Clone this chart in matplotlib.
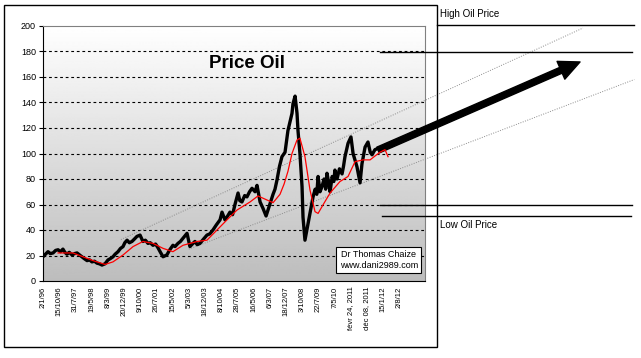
import numpy as np
import matplotlib
matplotlib.use("Agg")
import matplotlib.pyplot as plt
from matplotlib.patches import Rectangle

plt.rcParams['font.family'] = ['Liberation Sans', 'DejaVu Sans']

# category-axis labels, one every ~200 rows of the sheet
DATES = ["2/1/96", "15/10/96", "31/7/97", "19/5/98", "8/3/99", "20/12/99", "9/10/00",
         "26/7/01", "15/5/02", "5/3/03", "18/12/03", "8/10/04", "28/7/05", "16/5/06",
         "6/3/07", "18/12/07", "3/10/08", "22/7/09", "7/5/10", "févr 24, 2011",
         "déc 08, 2011", "15/1/12", "2/8/12"]

# oil price (x in label steps, y in $)
PRICE_T = [0.00, 0.15, 0.31, 0.45, 0.62, 0.78, 0.93, 1.08, 1.23, 1.35, 1.48, 1.62, 1.79, 1.95,
           2.10, 2.25, 2.41, 2.55, 2.72, 2.88, 3.02, 3.18, 3.33, 3.48, 3.64, 3.83,
           4.01, 4.15, 4.32, 4.45, 4.63, 4.78, 4.94, 5.05, 5.19, 5.33, 5.49, 5.65, 5.80, 5.99,
           6.17, 6.32, 6.48, 6.62, 6.79, 6.95, 7.10, 7.25, 7.41, 7.65,
           7.80, 8.02, 8.15, 8.33, 8.48, 8.64, 8.89, 9.07, 9.22, 9.38, 9.52, 9.69, 9.85, 10.12,
           10.30, 10.49, 10.70, 10.93, 11.05, 11.23, 11.40, 11.54, 11.70,
           11.85, 12.04, 12.15, 12.28, 12.45, 12.59, 12.75, 12.90, 13.09, 13.21, 13.40, 13.58,
           13.77, 13.95, 14.20, 14.32,
           14.44, 14.60, 14.75, 14.94, 15.12, 15.37, 15.43, 15.56, 15.68, 15.74, 15.86, 15.99,
           16.05, 16.17, 16.36, 16.48, 16.67, 16.80, 16.90, 16.98, 17.10, 17.22, 17.35, 17.45,
           17.53, 17.62, 17.72, 17.85, 17.95, 18.02, 18.15, 18.30, 18.46, 18.55, 18.64, 18.83,
           19.01, 19.14, 19.38, 19.57, 19.69, 19.88, 20.06, 20.20, 20.31, 20.49, 20.68]
PRICE = [19, 21, 23, 21.5, 22, 24, 24.5, 23, 25, 22.5, 21, 22.5, 20.5, 21.5,
         22, 20.5, 19, 17.5, 16, 16.5, 15, 15.5, 14, 13.5, 12.5, 13.5,
         16.5, 17.5, 19, 21, 23, 25.5, 27, 30, 32, 30, 31, 33, 35, 36,
         31, 32, 29.5, 30, 28, 29, 26, 22.5, 19, 20.5,
         24, 28, 27, 29.5, 31, 33.5, 37.4, 27, 29, 31, 28.5, 29.5, 32, 36,
         37, 40, 44, 48, 54, 48, 51, 54, 52,
         60, 69, 63, 62, 67, 66, 70, 72.7, 70, 75, 62, 57,
         51, 58, 68, 72,
         79, 90, 97.5, 101, 118, 131.5, 139, 145, 131.5, 118, 100, 74,
         50, 32, 45, 53, 66, 72, 68, 82, 70, 74, 80, 72,
         84.5, 78, 70, 82, 78, 87, 80, 88, 84, 90, 97.5, 108,
         113, 100, 89.6, 77, 92, 105, 109, 101, 99, 103, 104]

# red moving average
MA_T = [0.93, 1.85, 2.47, 3.09, 3.83, 4.32, 4.94, 5.56, 6.17, 6.79, 7.41, 8.02, 8.64, 9.51,
        10.12, 10.74, 11.36, 11.98, 12.78, 13.27, 13.83, 14.20, 14.63, 14.88, 15.12, 15.37,
        15.68, 15.86, 16.17, 16.48, 16.79, 16.98, 17.28, 17.72, 18.33, 18.83, 19.26, 19.75,
        20.19, 20.49, 20.80, 21.11, 21.30]
MA = [22, 22, 19, 16, 13, 15, 20.4, 27, 31, 29.5, 25.6, 23, 28, 31,
      32, 40, 48, 55.7, 62, 66.7, 63.5, 61.4, 68, 76, 86, 100,
      110.6, 112, 97.5, 71.4, 54.4, 53, 59.6, 69, 78, 82, 93.6, 95,
      95, 98, 101, 103, 97.5]

# hand-drawn channel, arrow and price bands
UPPER_T, UPPER_V = [4.81, 33.33], [32.5, 198.4]
LOWER_T, LOWER_V = [9.0, 36.5], [25.0, 158.0]
ARROW_FROM, ARROW_TO = (20.68, 102.7), (33.15, 171.8)
HIGH_LEVELS = [200.4, 179.6]
LOW_LEVELS = [59.6, 51.2]

W, H = 641, 358
fig = plt.figure(figsize=(W / 100, H / 100), dpi=100)
fig.add_artist(Rectangle((4 / W, 1 - 347 / H), 433 / W, 342 / H, transform=fig.transFigure,
                         fill=False, ec="black", lw=1))
ax = fig.add_axes([43 / W, 1 - 281 / H, 382 / W, 255 / H])

# grey gradient plot area
grad = np.linspace(1.0, 0.74, 256)[:, None]
ax.imshow(grad, cmap="gray", vmin=0, vmax=1, extent=[0, 1, 0, 1], transform=ax.transAxes,
          aspect="auto", zorder=0)
for v in range(20, 200, 20):
    ax.axhline(v, color="black", lw=0.8, ls=(0, (2.5, 2.5)), zorder=1)

ax.plot(UPPER_T, UPPER_V, color="#8c8c8c", lw=0.7, ls=(0, (1, 1.5)), clip_on=False, zorder=2)
ax.plot(LOWER_T, LOWER_V, color="#8c8c8c", lw=0.7, ls=(0, (1, 1.5)), clip_on=False, zorder=2)

ax.plot(PRICE_T, PRICE, color="black", lw=2.4, zorder=3)
ax.plot(MA_T, MA, color="#ff0000", lw=0.9, zorder=4)

ax.annotate("", xy=ARROW_TO, xytext=ARROW_FROM, annotation_clip=False,
            arrowprops=dict(width=4.5, headwidth=14, headlength=15, facecolor="black",
                            edgecolor="black", shrink=0))

ax.plot([24.32, 36.48], [HIGH_LEVELS[0]] * 2, color="black", lw=1, clip_on=False, zorder=5)
ax.plot([20.8, 36.36], [HIGH_LEVELS[1]] * 2, color="black", lw=1, clip_on=False, zorder=5)
ax.plot([20.8, 36.36], [LOW_LEVELS[0]] * 2, color="black", lw=1, clip_on=False, zorder=5)
ax.plot([20.93, 36.3], [LOW_LEVELS[1]] * 2, color="black", lw=1, clip_on=False, zorder=5)
ax.text(24.5, 209.4, "High Oil Price", fontsize=7, ha="left", va="center", clip_on=False)
ax.text(24.5, 43.9, "Low Oil Price", fontsize=7, ha="left", va="center", clip_on=False)

ax.text(12.62, 170.2, "Price Oil", fontsize=13.5, fontweight="bold", ha="center", va="center")
ax.text(20.72, 16.5, "Dr Thomas Chaize\nwww.dani2989.com", fontsize=6.5, ha="center",
        va="center", linespacing=1.35, zorder=6,
        bbox=dict(boxstyle="square,pad=0.35", fc="white", ec="black", lw=0.8))

ax.set_xlim(0, 23.58)
ax.set_ylim(0, 200)
ax.set_yticks(range(0, 201, 20))
ax.tick_params(axis="y", labelsize=6.5, length=3, width=0.8, pad=2)
ax.set_xticks(range(len(DATES)))
ax.set_xticklabels(DATES, rotation=90, fontsize=5.5)
ax.tick_params(axis="x", length=0, pad=4)
for s in ("top", "right"):
    ax.spines[s].set_color("#808080")
for s in ("left", "bottom"):
    ax.spines[s].set_color("black")

fig.savefig("out.png", dpi=100)
